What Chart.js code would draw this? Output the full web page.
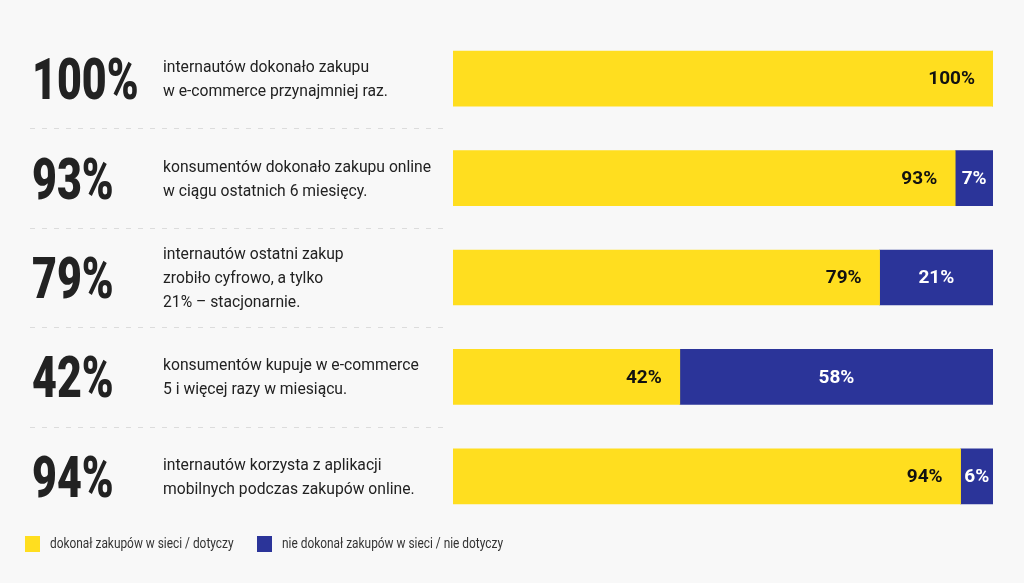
<!DOCTYPE html>
<html>
<head>
<meta charset="utf-8">
<script src="https://cdn.jsdelivr.net/npm/chart.js@4/dist/chart.umd.min.js"></script>
<style>
  html, body { margin: 0; padding: 0; background: #f8f8f8; }
  #wrap { width: 1024px; height: 583px; }
</style>
</head>
<body>
<div id="wrap"><canvas id="chart" width="1024" height="583"></canvas></div>
<script>
'use strict'

// data
const categories = ['q1', 'q2', 'q3', 'q4', 'q5']
const bigNumbers = ['100%', '93%', '79%', '42%', '94%']
const descriptions = [
  ['internautów dokonało zakupu', 'w e-commerce przynajmniej raz.'],
  ['konsumentów dokonało zakupu online', 'w ciągu ostatnich 6 miesięcy.'],
  ['internautów ostatni zakup', 'zrobiło cyfrowo, a tylko', '21% – stacjonarnie.'],
  ['konsumentów kupuje w e-commerce', '5 i więcej razy w miesiącu.'],
  ['internautów korzysta z aplikacji', 'mobilnych podczas zakupów online.']
]
const yesValues = [100, 93, 79, 42, 94]
const noValues = [0, 7, 21, 58, 6]
const seriesNames = ['dokonał zakupów w sieci / dotyczy', 'nie dokonał zakupów w sieci / nie dotyczy']

const YELLOW = '#ffde1f'
const BLUE = '#2b3499'

// big numbers, descriptions, dashed separators and the legend
const sidePlugin = {
  id: 'side',
  afterDraw(chart) {
    const ctx = chart.ctx
    const y = chart.scales.y
    ctx.save()
    // separators between rows
    ctx.strokeStyle = '#dcdcdc'
    ctx.lineWidth = 1
    ctx.setLineDash([5, 7])
    for (let i = 0; i < categories.length - 1; i++) {
      const yy = Math.round((y.getPixelForValue(i) + y.getPixelForValue(i + 1)) / 2) + 0.5
      ctx.beginPath()
      ctx.moveTo(30, yy)
      ctx.lineTo(444, yy)
      ctx.stroke()
    }
    ctx.setLineDash([])

    categories.forEach((c, i) => {
      const cy = y.getPixelForValue(i)
      // condensed-looking big number
      ctx.save()
      ctx.translate(32, cy + 20.5)
      ctx.scale(0.74, 1)
      ctx.fillStyle = '#222'
      ctx.font = '900 58px Roboto'
      ctx.textAlign = 'left'
      ctx.textBaseline = 'alphabetic'
      ctx.fillText(bigNumbers[i], 0, 0)
      ctx.restore()

      const lines = descriptions[i]
      ctx.fillStyle = '#222'
      ctx.font = '15.7px Roboto'
      ctx.textAlign = 'left'
      ctx.textBaseline = 'middle'
      lines.forEach((l, k) => {
        ctx.fillText(l, 163, cy + 1.5 + (k - (lines.length - 1) / 2) * 24)
      })
    })

    // legend
    const legendX = [25, 257]
    chart.data.datasets.forEach((ds, i) => {
      ctx.fillStyle = ds.backgroundColor
      ctx.fillRect(legendX[i], 536, 15, 16)
      ctx.save()
      ctx.translate(legendX[i] + 25, 544)
      ctx.scale(0.82, 1)
      ctx.fillStyle = '#333'
      ctx.font = '14.5px Roboto'
      ctx.textAlign = 'left'
      ctx.textBaseline = 'middle'
      ctx.fillText(ds.label, 0, 0)
      ctx.restore()
    })
    ctx.restore()
  }
}

// percent labels inside the bars
const valuePlugin = {
  id: 'values',
  afterDatasetsDraw(chart) {
    const ctx = chart.ctx
    ctx.save()
    ctx.font = 'bold 19px Roboto'
    ctx.textBaseline = 'middle'
    chart.data.datasets.forEach((ds, di) => {
      const meta = chart.getDatasetMeta(di)
      meta.data.forEach((bar, i) => {
        const v = ds.data[i]
        if (!v) return
        if (di === 0) {
          ctx.fillStyle = '#111'
          ctx.textAlign = 'right'
          ctx.fillText(v + '%', bar.x - 18, bar.y + 1)
        } else {
          ctx.fillStyle = '#fff'
          ctx.textAlign = 'center'
          ctx.fillText(v + '%', (bar.x + bar.base) / 2, bar.y + 1)
        }
      })
    })
    ctx.restore()
  }
}

new Chart(document.getElementById('chart'), {
  type: 'bar',
  data: {
    labels: categories,
    datasets: [
      { label: seriesNames[0], data: yesValues, backgroundColor: YELLOW },
      { label: seriesNames[1], data: noValues, backgroundColor: BLUE }
    ]
  },
  options: {
    indexAxis: 'y',
    responsive: false,
    animation: false,
    devicePixelRatio: 1,
    barThickness: 55,
    layout: { padding: { left: 453, right: 31, top: 29, bottom: 57 } },
    scales: {
      x: { stacked: true, min: 0, max: 100, display: false },
      y: { stacked: true, display: false }
    },
    plugins: {
      legend: { display: false },
      tooltip: { enabled: false }
    }
  },
  plugins: [sidePlugin, valuePlugin]
})
</script>
</body>
</html>
